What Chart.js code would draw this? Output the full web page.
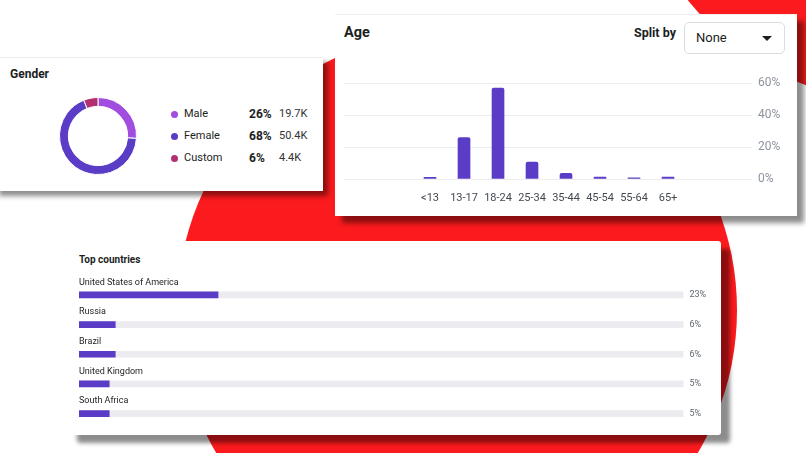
<!DOCTYPE html>
<html>
<head>
<meta charset="utf-8">
<script src="https://cdn.jsdelivr.net/npm/chart.js@4/dist/chart.umd.min.js"></script>
<style>
  html, body { margin:0; padding:0; }
  body { width:806px; height:453px; overflow:hidden; position:relative; background:#ffffff; font-family: Roboto, "Liberation Sans", sans-serif; color:#1c1e21; }
  .abs { position:absolute; }
  .circle { position:absolute; border-radius:50%; background:#fb1a1d; }
  .card { position:absolute; background:#fff; }
  .txt { position:absolute; white-space:nowrap; }
</style>
</head>
<body>
<div class="circle" style="left:177px; top:30px; width:560px; height:560px;"></div>
<div class="circle" style="left:628px; top:-442px; width:544px; height:544px;"></div>

<!-- Gender card -->
<div class="card" style="left:-6px; top:57px; width:329px; height:133px; box-shadow:5px 5px 5px rgba(0,0,0,0.45); border-top:1px solid #eee;"></div>
<div class="txt" style="left:10px; top:66px; font-size:12px; font-weight:700; line-height:16px;">Gender</div>
<div class="abs" style="left:59px; top:97px; width:78px; height:78px;"><canvas id="gender"></canvas></div>
<div id="genderLegend"></div>

<!-- Age card -->
<div class="card" style="left:335px; top:14px; width:462px; height:201px; box-shadow:7px 7px 5px rgba(0,0,0,0.45); border-top:1px solid #f0f0f0;"></div>
<div class="txt" style="left:344px; top:24px; font-size:14.5px; font-weight:700; line-height:18px;">Age</div>
<div class="txt" style="left:634px; top:25px; font-size:12.5px; font-weight:700; line-height:16px;">Split by</div>
<div class="abs" style="left:684px; top:22px; width:99px; height:30px; border:1px solid #dadde1; border-radius:5px; background:#fff;"></div>
<div class="txt" style="left:696px; top:30px; font-size:13px; line-height:16px; color:#1c1e21;">None</div>
<div class="abs" style="left:762px; top:36px; width:0; height:0; border-left:5px solid transparent; border-right:5px solid transparent; border-top:5px solid #1c1e21;"></div>
<div class="abs" style="left:340px; top:70px; width:450px; height:140px;"><canvas id="age"></canvas></div>

<!-- Countries card -->
<div class="card" style="left:68px; top:241px; width:653px; height:194px; border-radius:3px; box-shadow:9px 8px 4px rgba(0,0,0,0.45);"></div>
<div class="txt" style="left:79px; top:253px; font-size:10px; font-weight:700; line-height:14px;">Top countries</div>
<div class="abs" style="left:75px; top:266px; width:640px; height:164px;"><canvas id="countries"></canvas></div>

<script>
// ---- Data ----
const genderLabels = ["Male", "Female", "Custom"];
const genderPercents = [26, 68, 6];
const genderCounts = ["19.7K", "50.4K", "4.4K"];

const ageLabels = ["<13", "13-17", "18-24", "25-34", "35-44", "45-54", "55-64", "65+"];
const ageValues = [1, 26, 57, 10.6, 3.6, 1.2, 0.8, 1.2];
const ageTicks = [0, 20, 40, 60];

const countryLabels = ["United States of America", "Russia", "Brazil", "United Kingdom", "South Africa"];
const countryValues = [23, 6, 6, 5, 5];

// ---- Styles ----
const genderColors = ["#a14de0", "#5b3cc6", "#b2306f"];
const purple = "#5b3cc6";
const track = "#ebebf0";

Chart.defaults.font.family = 'Roboto, "Liberation Sans", sans-serif';
Chart.defaults.animation = false;
Chart.defaults.plugins.legend.display = false;
Chart.defaults.plugins.tooltip.enabled = false;

// Gender legend
const lg = document.getElementById('genderLegend');
genderLabels.forEach((lab, i) => {
  const cy = 114 + i * 22;
  lg.insertAdjacentHTML('beforeend',
    `<div class="abs" style="left:171px; top:${cy-3.5}px; width:7px; height:7px; border-radius:50%; background:${genderColors[i]};"></div>` +
    `<div class="txt" style="left:184px; top:${cy-8}px; font-size:11px; line-height:16px;">${lab}</div>` +
    `<div class="txt" style="left:249px; top:${cy-8}px; font-size:12px; font-weight:700; line-height:16px;">${genderPercents[i]}%</div>` +
    `<div class="txt" style="left:279px; top:${cy-8}px; font-size:11px; line-height:16px; color:#333;">${genderCounts[i]}</div>`);
});

new Chart(document.getElementById('gender'), {
  type: 'doughnut',
  data: { labels: genderLabels, datasets: [{ data: genderPercents, backgroundColor: genderColors, borderColor: '#fff', borderWidth: 1 }] },
  options: { responsive: true, maintainAspectRatio: false, cutout: '77%', layout: { padding: 0 } }
});

new Chart(document.getElementById('age'), {
  type: 'bar',
  data: { datasets: [{ data: ageValues.map((v, i) => ({ x: i, y: v })), backgroundColor: purple, barThickness: 12, borderRadius: 2, borderSkipped: 'bottom' }] },
  options: {
    responsive: true, maintainAspectRatio: false,
    layout: { padding: { left: 4, top: 13, right: 0, bottom: 0 } },
    scales: {
      x: {
        type: 'linear', min: -2.53, max: 9.47, offset: false,
        grid: { display: false }, border: { display: false },
        afterBuildTicks: s => { s.ticks = ageLabels.map((_, i) => ({ value: i })); },
        afterFit: s => { s.height = 31; },
        ticks: { autoSkip: false, maxRotation: 0, padding: 5, color: '#444950', font: { size: 11 }, callback: v => ageLabels[v] }
      },
      y: {
        position: 'right', min: 0, max: 60,
        grid: { color: '#ededed', drawTicks: false }, border: { display: false },
        afterBuildTicks: s => { s.ticks = ageTicks.map(v => ({ value: v })); },
        afterFit: s => { s.width = 38; },
        ticks: { padding: 6, color: '#8d949e', font: { size: 12 }, callback: v => v + '%' }
      }
    }
  }
});

const countryText = {
  id: 'countryText',
  afterDatasetsDraw(chart) {
    const ctx = chart.ctx, ys = chart.scales.y, area = chart.chartArea;
    ctx.save();
    ctx.textBaseline = 'middle';
    countryLabels.forEach((lab, i) => {
      const y = ys.getPixelForValue(i);
      ctx.font = '9px Roboto, "Liberation Sans", sans-serif';
      ctx.fillStyle = '#1c1e21';
      ctx.textAlign = 'left';
      ctx.fillText(lab, area.left, y - 12.5);
      ctx.fillStyle = '#606770';
      ctx.fillText(countryValues[i] + '%', area.right + 6, y);
    });
    ctx.restore();
  }
};

new Chart(document.getElementById('countries'), {
  type: 'bar',
  data: {
    labels: countryLabels,
    datasets: [
      { data: countryValues, backgroundColor: purple, barThickness: 6, order: 0 },
      { data: countryLabels.map(() => 100), backgroundColor: track, barThickness: 6, order: 1 }
    ]
  },
  options: {
    indexAxis: 'y', responsive: true, maintainAspectRatio: false,
    layout: { padding: { left: 4, right: 31.5, top: 14, bottom: 1.5 } },
    datasets: { bar: { grouped: false } },
    scales: {
      x: { display: false, min: 0, max: 100 },
      y: { display: false }
    }
  },
  plugins: [countryText]
});
</script>
</body>
</html>
